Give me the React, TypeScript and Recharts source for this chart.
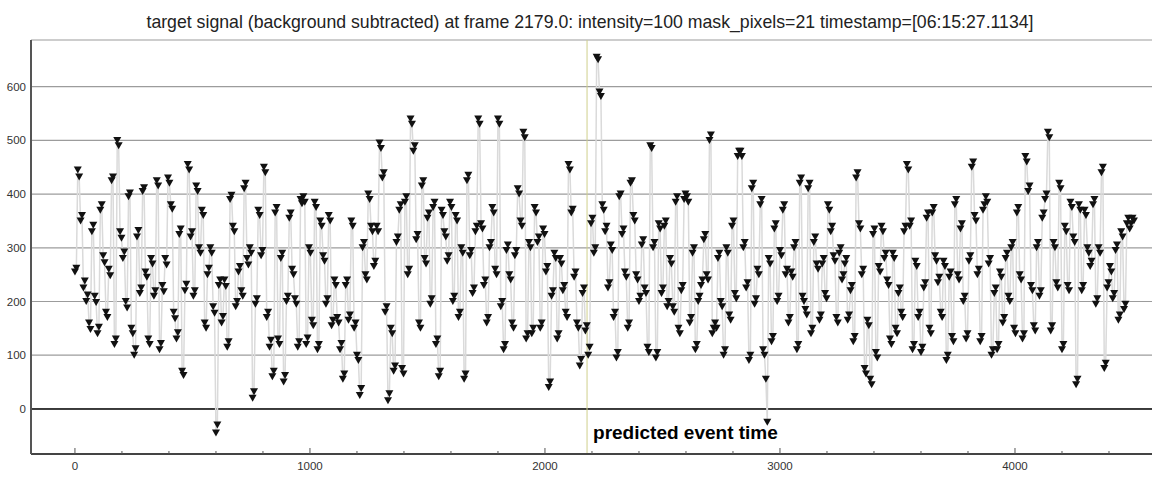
import React from 'react';
import { LineChart, Line, XAxis, YAxis, CartesianGrid, ReferenceLine } from 'recharts';

// one value every FRAME_STEP frames, read off the plot strip by strip
// (values come in pairs: two readings per visible marker cluster)
const FRAME_STEP = 6;

const signalA = [
  255, 262, 445, 432, 350, 360, 225, 238, 200, 212, 160, 148, 330, 342, 210, 198, 140, 152,
  370, 380, 285, 272, 180, 170, 260, 248, 425, 432, 120, 130, 500, 490, 330, 318, 280, 292,
  200, 188, 395, 402, 150, 140, 100, 112, 320, 332, 215, 225, 405, 412, 255, 245, 130, 120,
  280, 270, 210, 220, 425, 415, 110, 122, 230, 218, 280, 268, 430, 420, 380, 372, 180, 168,
  130, 142, 325, 335, 70, 62, 220, 232, 455, 445, 320, 330, 210, 220, 415, 405, 300, 290,
  370, 360, 160, 150, 250, 262, 300, 290, 190, 178, -45, -30,
];
const signalB = [
  230, 240, 160, 172, 240, 228, 115, 125, 390, 398, 340, 330, 190, 200, 255, 265, 220, 210,
  410, 420, 280, 268, 300, 290, 20, 32, 195, 205, 370, 360, 285, 295, 450, 440, 170, 180,
  115, 128, 60, 70, 365, 375, 130, 120, 280, 290, 50, 62, 200, 210, 355, 365, 260, 250,
  205, 195, 115, 125, 390, 382, 395, 385, 120, 132, 300, 290, 165, 155, 385, 375, 110, 120,
  350, 340, 285, 275, 195, 205, 360, 350, 155, 165, 240, 230, 170, 160, 110, 122, 55, 65,
  230, 240, 165, 175, 350, 340, 150, 160, 100, 90, 25, 38, 300, 310, 250, 240, 400, 390,
  340, 330, 265, 275,
];
const signalC = [
  340, 330, 495, 485, 430, 440, 180, 190, 15, 28, 150, 140, 70, 80, 310, 320, 370, 380,
  75, 65, 385, 395, 250, 260, 540, 530, 480, 490, 315, 325, 160, 150, 415, 425, 280, 270,
  355, 365, 195, 205, 375, 385, 120, 130, 60, 70, 370, 360, 330, 320, 275, 285, 385, 375,
  200, 210, 360, 350, 170, 180, 300, 290, 55, 65, 425, 435, 285, 295, 215, 225, 330, 340,
  540, 530, 345, 335, 230, 240, 160, 170, 300, 310, 375, 365, 260, 250, 540, 530, 190, 200,
  110, 120, 295, 305, 250, 240, 160, 150, 285, 295, 410, 400, 350, 340, 515, 505, 130, 140,
  310, 300,
];
const signalD = [
  140, 150, 375, 365, 310, 320, 150, 160, 335, 325, 255, 265, 40, 50, 210, 220, 290, 280,
  130, 140, 280, 270, 220, 230, 180, 170, 455, 445, 365, 372, 245, 255, 160, 150, 80, 92,
  215, 225, 145, 155, 100, 115, 345, 355, 290, 300, 655, 650, 590, 582, 380, 370, 330, 340,
  225, 235, 305, 295, 170, 180, 95, 105, 395, 400, 325, 335, 255, 245, 150, 160, 420, 425,
  360, 350, 250, 240, 200, 210, 305, 315, 225, 215, 115, 105, 490, 485, 300, 310, 95, 105,
  345, 335, 215, 225, 340, 350, 190, 200, 280, 270, 190, 180, 385, 395, 150, 140, 220, 230,
  390, 400,
];
const signalE = [
  395, 385, 160, 170, 290, 300, 110, 120, 200, 210, 230, 240, 315, 325, 250, 240, 500, 510,
  140, 150, 160, 150, 280, 290, 200, 190, 100, 110, 300, 290, 175, 165, 340, 350, 215, 205,
  470, 480, 480, 470, 300, 310, 225, 235, 90, 100, 410, 420, 195, 205, 260, 250, 380, 390,
  110, 100, 55, -25, 280, 270, 125, 135, 335, 345, 200, 210, 295, 285, 370, 380, 250, 260,
  160, 170, 255, 245, 300, 310, 110, 120, 420, 430, 210, 200, 185, 175, 410, 420, 140, 150,
  310, 320, 270, 260, 165, 175, 270, 280, 215, 205, 380, 370, 330, 340, 285, 275, 170, 160,
  290, 300,
];
const signalF = [
  240, 250, 270, 280, 165, 175, 220, 230, 125, 135, 430, 440, 345, 335, 250, 260, 75, 65,
  165, 155, 55, 45, 325, 335, 105, 95, 265, 255, 340, 330, 280, 290, 240, 230, 130, 120,
  290, 280, 150, 140, 215, 225, 180, 170, 330, 340, 455, 445, 340, 350, 110, 120, 275, 265,
  170, 180, 105, 115, 225, 235, 355, 365, 150, 140, 365, 375, 285, 275, 235, 245, 180, 170,
  275, 265, 90, 100, 245, 255, 135, 125, 380, 390, 250, 240, 335, 345, 200, 210, 130, 140,
  275, 285, 450, 460, 360, 350, 250, 260, 125, 135, 370, 380, 395, 385, 270, 280, 100, 110,
  215, 225,
];
const signalG = [
  110, 120, 255, 245, 160, 170, 280, 290, 210, 200, 300, 310, 150, 140, 365, 375, 250, 240,
  130, 140, 470, 460, 405, 415, 230, 220, 155, 145, 300, 310, 210, 220, 355, 365, 390, 400,
  515, 505, 145, 155, 310, 300, 235, 225, 420, 410, 110, 120, 340, 330, 230, 220, 385, 375,
  320, 310, 45, 55, 380, 370, 220, 230, 370, 360, 300, 290, 265, 275, 380, 390, 195, 205,
  300, 290, 440, 450, 75, 85, 225, 235, 265, 255, 205, 215, 295, 305, 165, 175, 330, 320,
  185, 195, 345, 355, 335, 345, 355, 350,
];

const yTicks = [0, 100, 200, 300, 400, 500, 600];
const xMajorTicks = [0, 1000, 2000, 3000, 4000];
const xMinorTicks = [
  0, 200, 400, 600, 800, 1000, 1200, 1400, 1600, 1800, 2000, 2200, 2400, 2600, 2800,
  3000, 3200, 3400, 3600, 3800, 4000, 4200, 4400,
];
const eventFrame = 2179;
const titleText =
  'target signal (background subtracted) at frame 2179.0: intensity=100 mask_pixels=21 timestamp=[06:15:27.1134]';

const data = [...signalA, ...signalB, ...signalC, ...signalD, ...signalE, ...signalF, ...signalG].map(
  (value, i) => ({ frame: i * FRAME_STEP, value })
);

const W = 1152;
const H = 493;
const font = '"Liberation Sans", Arial, sans-serif';

const TriangleDot = (props: any) => {
  const { cx, cy, index } = props;
  if (cx == null || cy == null) return null;
  return (
    <path
      key={`dot-${index}`}
      d={`M${cx - 4},${cy - 3.5} L${cx + 4},${cy - 3.5} L${cx},${cy + 3.5} Z`}
      fill="#111"
    />
  );
};

const XTick = (props: any) => {
  const { x, y, payload } = props;
  const major = xMajorTicks.includes(payload.value);
  return (
    <g>
      <line x1={x} x2={x} y1={y} y2={y - (major ? 6 : 3)} stroke="#555" strokeWidth={1} />
      {major && (
        <text x={x} y={y + 16} textAnchor="middle" fontSize={11.5} fill="#333" fontFamily={font}>
          {payload.value}
        </text>
      )}
    </g>
  );
};

const EventLabel = (props: any) => {
  const { viewBox } = props;
  if (!viewBox) return null;
  return (
    <text
      x={viewBox.x + 6}
      y={viewBox.y + viewBox.height - 15}
      fontSize={19}
      fontWeight="bold"
      fill="#000"
      fontFamily={font}
    >
      predicted event time
    </text>
  );
};

export default function App() {
  return (
    <div style={{ position: 'absolute', left: 0, top: 0, width: W, height: H, background: '#fff' }}>
      <svg width={W} height={40} style={{ position: 'absolute', left: 0, top: 0 }}>
        <text x={590} y={28} textAnchor="middle" fontSize={17.7} fill="#222" fontFamily={font}>
          {titleText}
        </text>
      </svg>
      <LineChart width={W} height={H} data={data} margin={{ top: 40, right: 0, bottom: 0, left: 0 }}>
        <CartesianGrid vertical={false} stroke="#9c9c9c" strokeWidth={1.2} />
        <XAxis
          dataKey="frame"
          type="number"
          domain={[-187, 4583]}
          allowDataOverflow
          ticks={xMinorTicks}
          interval={0}
          height={39}
          tickSize={0}
          tickMargin={0}
          tickLine={false}
          tick={<XTick />}
          axisLine={{ stroke: '#444', strokeWidth: 2 }}
        />
        <YAxis
          type="number"
          domain={[-84, 687]}
          allowDataOverflow
          ticks={yTicks}
          width={31}
          tickSize={3}
          tickMargin={2}
          tickLine={false}
          tick={{ fontSize: 11.5, fill: '#333', fontFamily: font }}
          axisLine={{ stroke: '#555', strokeWidth: 2 }}
        />
        <ReferenceLine y={0} stroke="#111" strokeWidth={1.5} />
        <Line
          type="linear"
          dataKey="value"
          stroke="#dadada"
          strokeWidth={1.5}
          dot={TriangleDot}
          activeDot={false}
          isAnimationActive={false}
        />
        <ReferenceLine x={eventFrame} stroke="#cfcf8c" strokeWidth={1} label={<EventLabel />} />
      </LineChart>
    </div>
  );
}
